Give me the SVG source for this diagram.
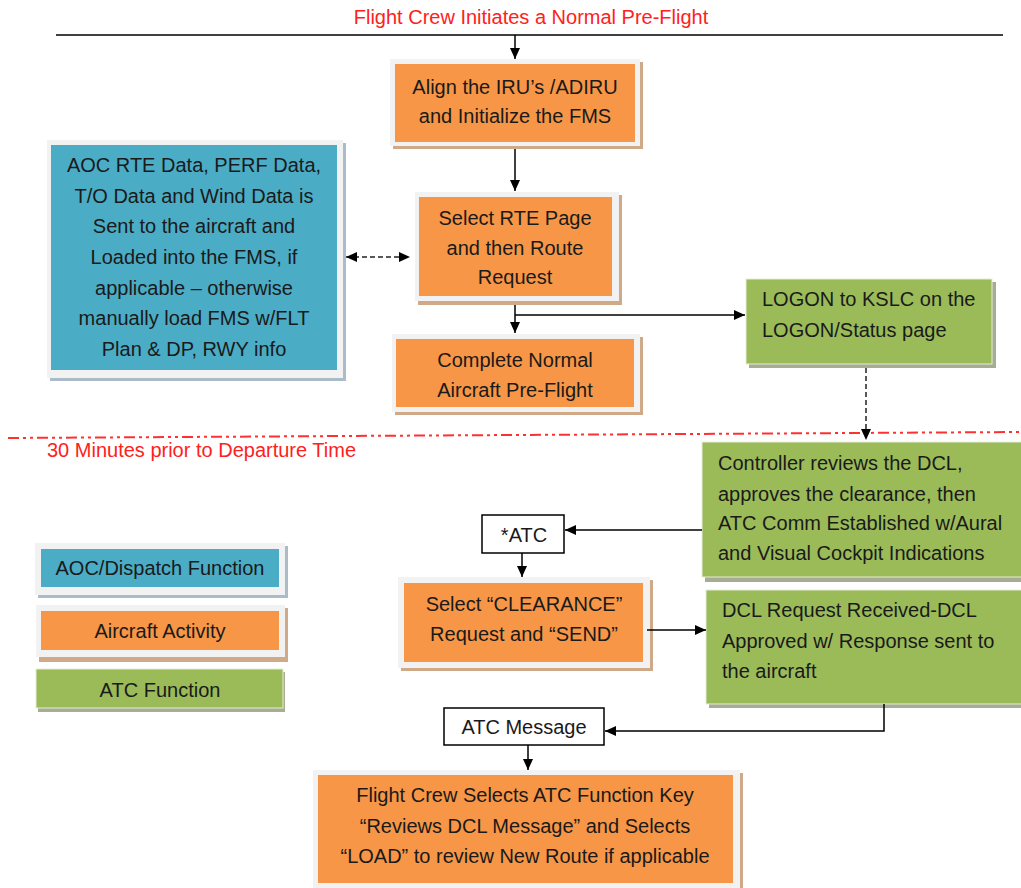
<svg xmlns="http://www.w3.org/2000/svg" width="1021" height="888" viewBox="0 0 1021 888">
<style>
text{font-family:"Liberation Sans",Arial,sans-serif;font-size:20px;fill:#1a1a1a}
.c{text-anchor:middle}
.red{fill:#ff2020}
.frame{fill:#f2f2f2}
.osh{fill:#cfa988}
.bsh{fill:#a9bcc8}
.gsh{fill:#a6ad92}
.org{fill:#f79646}
.blu{fill:#4bacc6}
.grn{fill:#9bbb59;stroke:#e6edd8;stroke-width:1}
.wb{fill:#fff;stroke:#000;stroke-width:1.5}
.ln{fill:none;stroke:#000;stroke-width:1.5}
.dl{fill:none;stroke:#222;stroke-width:1.5;stroke-dasharray:5 3}
</style>
<defs>
<marker id="ah" markerUnits="userSpaceOnUse" markerWidth="12" markerHeight="10" refX="11" refY="5" orient="auto">
<path d="M0,0 L11,5 L0,10 Z" fill="#000"/>
</marker>
<marker id="as" markerUnits="userSpaceOnUse" markerWidth="12" markerHeight="10" refX="0" refY="5" orient="auto">
<path d="M11,0 L0,5 L11,10 Z" fill="#000"/>
</marker>
</defs>
<rect width="1021" height="888" fill="#fff"/>

<g id="header">
<text class="c red" x="531" y="24">Flight Crew Initiates a Normal Pre-Flight</text>
<line x1="56" y1="35" x2="1003" y2="35" stroke="#000" stroke-width="1.5"/>
</g>

<g id="divider">
<line x1="8" y1="438" x2="1021" y2="432" stroke="#ff3030" stroke-width="2" stroke-dasharray="11 4 3 4 3 4"/>
<text class="red" x="47" y="457">30 Minutes prior to Departure Time</text>
</g>

<g id="align">
<rect class="osh" x="393" y="62" width="250" height="87"/>
<rect class="frame" x="390" y="59" width="250" height="87"/>
<rect class="org" x="395" y="64" width="240" height="78"/>
<text class="c" x="515" y="94">Align the IRU’s /ADIRU</text>
<text class="c" x="515" y="123">and Initialize the FMS</text>
</g>

<g id="aoc">
<rect class="bsh" x="50" y="143" width="296" height="238"/>
<rect class="frame" x="47" y="140" width="296" height="238"/>
<rect class="blu" x="51" y="145" width="286" height="225"/>
<text class="c" x="194" y="172">AOC RTE Data, PERF Data,</text>
<text class="c" x="194" y="203">T/O Data and Wind Data is</text>
<text class="c" x="194" y="233">Sent to the aircraft and</text>
<text class="c" x="194" y="264">Loaded into the FMS, if</text>
<text class="c" x="194" y="295">applicable – otherwise</text>
<text class="c" x="194" y="325">manually load FMS w/FLT</text>
<text class="c" x="194" y="356">Plan &amp; DP, RWY info</text>
</g>

<g id="route">
<rect class="osh" x="418" y="195" width="204" height="110"/>
<rect class="frame" x="415" y="192" width="204" height="109"/>
<rect class="org" x="419" y="197" width="193" height="99"/>
<text class="c" x="515" y="225">Select RTE Page</text>
<text class="c" x="515" y="255">and then Route</text>
<text class="c" x="515" y="284">Request</text>
</g>

<g id="complete">
<rect class="osh" x="395" y="337" width="248" height="78"/>
<rect class="frame" x="392" y="334" width="248" height="78"/>
<rect class="org" x="396" y="339" width="238" height="68"/>
<text class="c" x="515" y="367">Complete Normal</text>
<text class="c" x="515" y="397">Aircraft Pre-Flight</text>
</g>

<g id="logon">
<rect class="gsh" x="749" y="282" width="247" height="86"/>
<rect class="grn" x="746" y="279" width="246" height="85"/>
<text x="762" y="306">LOGON to KSLC on the</text>
<text x="762" y="337">LOGON/Status page</text>
</g>

<g id="controller">
<rect class="gsh" x="705" y="445" width="320" height="137"/>
<rect class="grn" x="702" y="442" width="325" height="135"/>
<text x="718" y="470">Controller reviews the DCL,</text>
<text x="718" y="501">approves the clearance, then</text>
<text x="718" y="530">ATC Comm Established w/Aural</text>
<text x="718" y="560">and Visual Cockpit Indications</text>
</g>

<g id="atc">
<rect class="wb" x="482" y="515" width="82" height="38"/>
<text class="c" x="524" y="542">*ATC</text>
</g>

<g id="clearance">
<rect class="osh" x="401" y="580" width="252" height="91"/>
<rect class="frame" x="398" y="577" width="252" height="91"/>
<rect class="org" x="404" y="583" width="239" height="79"/>
<text class="c" x="524" y="611">Select “CLEARANCE”</text>
<text class="c" x="524" y="641">Request and “SEND”</text>
</g>

<g id="dcl">
<rect class="gsh" x="709" y="593" width="320" height="115"/>
<rect class="grn" x="706" y="590" width="325" height="114"/>
<text x="722" y="617">DCL Request Received-DCL</text>
<text x="722" y="648">Approved w/ Response sent to</text>
<text x="722" y="678">the aircraft</text>
</g>

<g id="atcmsg">
<rect class="wb" x="444" y="708" width="160" height="37"/>
<text class="c" x="524" y="734">ATC Message</text>
</g>

<g id="final">
<rect class="osh" x="316" y="773" width="427" height="120"/>
<rect class="frame" x="313" y="770" width="427" height="120"/>
<rect class="org" x="318" y="775" width="415" height="108"/>
<text class="c" x="525" y="802">Flight Crew Selects ATC Function Key</text>
<text class="c" x="525" y="833">“Reviews DCL Message” and Selects</text>
<text class="c" x="525" y="863">“LOAD” to review New Route if applicable</text>
</g>

<g id="legend-aoc">
<rect class="bsh" x="38" y="546" width="250" height="52"/>
<rect class="frame" x="35" y="543" width="250" height="52"/>
<rect class="blu" x="41" y="549" width="238" height="38"/>
<text class="c" x="160" y="575">AOC/Dispatch Function</text>
</g>

<g id="legend-aircraft">
<rect class="osh" x="39" y="608" width="249" height="54"/>
<rect class="frame" x="36" y="605" width="249" height="52"/>
<rect class="org" x="41" y="611" width="238" height="39"/>
<text class="c" x="160" y="638">Aircraft Activity</text>
</g>

<g id="legend-atc">
<rect class="gsh" x="38" y="672" width="247" height="40"/>
<rect class="grn" x="36" y="669" width="247" height="39"/>
<text class="c" x="160" y="697">ATC Function</text>
</g>

<g id="connectors">
<line class="ln" x1="515" y1="35" x2="515" y2="59" marker-end="url(#ah)"/>
<line class="ln" x1="515" y1="149" x2="515" y2="191" marker-end="url(#ah)"/>
<line class="ln" x1="515" y1="305" x2="515" y2="333" marker-end="url(#ah)"/>
<line class="ln" x1="515" y1="315" x2="745" y2="315" marker-end="url(#ah)"/>
<line class="dl" x1="346" y1="257" x2="410" y2="257" marker-start="url(#as)" marker-end="url(#ah)"/>
<line class="dl" x1="866" y1="368" x2="866" y2="440" marker-end="url(#ah)"/>
<line class="ln" x1="702" y1="530" x2="565" y2="530" marker-end="url(#ah)"/>
<line class="ln" x1="522" y1="553" x2="522" y2="577" marker-end="url(#ah)"/>
<line class="ln" x1="647" y1="630" x2="706" y2="630" marker-end="url(#ah)"/>
<polyline class="ln" points="884,704 884,731 605,731" marker-end="url(#ah)"/>
<line class="ln" x1="528" y1="745" x2="528" y2="770" marker-end="url(#ah)"/>
</g>
</svg>
